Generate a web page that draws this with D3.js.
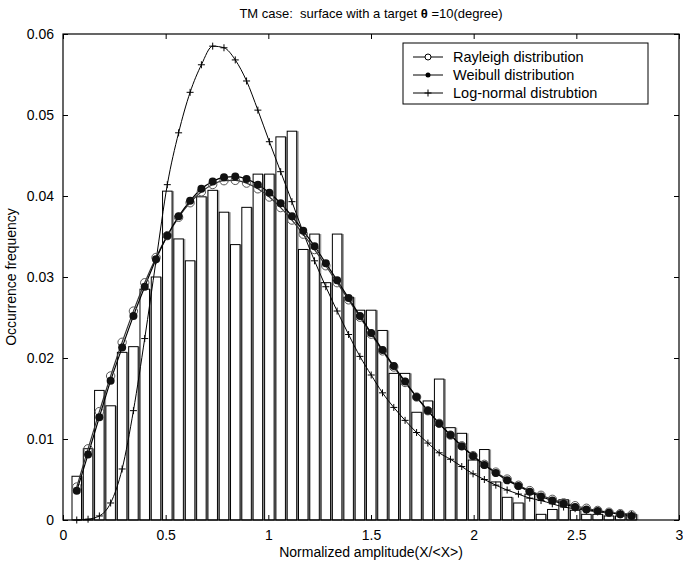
<!DOCTYPE html>
<html>
<head>
<meta charset="utf-8">
<script src="https://cdn.jsdelivr.net/npm/d3@7"></script>
<style>
  body { margin: 0; background: #fff; }
  text { font-family: "Liberation Sans", Arial, Helvetica, sans-serif; fill: #000; }
</style>
</head>
<body>
<svg id="chart"></svg>
<script>
// chart size
var svgWidth = 683;
var svgHeight = 565;

// plot box in pixels
var margin = { top: 34, right: 4, bottom: 45, left: 63 };
var width = svgWidth - margin.left - margin.right;
var height = svgHeight - margin.top - margin.bottom;

// bin centres (normalized amplitude)
var binCenters = [0.067, 0.122, 0.177, 0.232, 0.288, 0.343, 0.398, 0.453, 0.508, 0.563,
  0.619, 0.674, 0.729, 0.784, 0.839, 0.894, 0.949, 1.005, 1.060, 1.115,
  1.170, 1.225, 1.280, 1.335, 1.391, 1.446, 1.501, 1.556, 1.611, 1.666,
  1.722, 1.777, 1.832, 1.887, 1.942, 1.997, 2.052, 2.108, 2.163, 2.218,
  2.273, 2.328, 2.383, 2.438, 2.494, 2.549, 2.604, 2.659, 2.714, 2.769];

// measured histogram (occurrence frequency)
var histValues = [0.0054, 0.0088, 0.0160, 0.0141, 0.0207, 0.0214, 0.0285, 0.0300, 0.0406, 0.0347,
  0.0320, 0.0399, 0.0407, 0.0380, 0.0340, 0.0386, 0.0427, 0.0427, 0.0473, 0.0480,
  0.0334, 0.0353, 0.0293, 0.0353, 0.0275, 0.0259, 0.0259, 0.0234, 0.0181, 0.0181,
  0.0133, 0.0147, 0.0174, 0.0114, 0.0107, 0.0074, 0.0087, 0.0047, 0.0028, 0.0021,
  0.0032, 0.0007, 0.0013, 0.0025, 0.0012, 0.0007, 0.0007, 0.0005, 0.0005, 0.0007];

// fitted curves
var rayleighValues = [0.00407, 0.00879, 0.01338, 0.01778, 0.02194, 0.02579, 0.02929, 0.03241, 0.03511, 0.03737,
  0.03917, 0.04052, 0.04142, 0.04189, 0.04193, 0.04159, 0.04089, 0.03987, 0.03857, 0.03703,
  0.03529, 0.03339, 0.03139, 0.02930, 0.02718, 0.02504, 0.02294, 0.02088, 0.01889, 0.01698,
  0.01518, 0.01349, 0.01193, 0.01048, 0.00916, 0.00795, 0.00687, 0.00591, 0.00505, 0.00429,
  0.00363, 0.00305, 0.00255, 0.00212, 0.00176, 0.00145, 0.00118, 0.00096, 0.00078, 0.00063];

var weibullValues = [0.0036, 0.0081, 0.0127, 0.0172, 0.0213, 0.0252, 0.0288, 0.0322, 0.0351, 0.0375,
  0.0394, 0.0409, 0.0418, 0.0423, 0.0424, 0.0421, 0.0414, 0.0404, 0.0391, 0.0375,
  0.0357, 0.0338, 0.0317, 0.0296, 0.0274, 0.0252, 0.0231, 0.0210, 0.0190, 0.0171,
  0.0152, 0.0135, 0.0119, 0.0105, 0.0091, 0.0079, 0.0068, 0.0058, 0.0049, 0.0042,
  0.0035, 0.0029, 0.0024, 0.0020, 0.0016, 0.0013, 0.0011, 0.0009, 0.0007, 0.0005];

var lognormalValues = [0.0000, 0.0001, 0.0005, 0.0021, 0.0063, 0.0135, 0.0224, 0.0320, 0.0414, 0.0478,
  0.0528, 0.0562, 0.0585, 0.0583, 0.0568, 0.0542, 0.0506, 0.0467, 0.0430, 0.0393,
  0.0355, 0.0320, 0.0288, 0.0258, 0.0229, 0.0202, 0.0179, 0.0157, 0.0139, 0.0123,
  0.0108, 0.0095, 0.0083, 0.0075, 0.0066, 0.0057, 0.0050, 0.0043, 0.0037, 0.0032,
  0.0027, 0.0024, 0.0020, 0.0016, 0.0014, 0.0012, 0.0010, 0.0009, 0.0008, 0.0007];

var xTicks = [0, 0.5, 1, 1.5, 2, 2.5, 3];
var yTicks = [0, 0.01, 0.02, 0.03, 0.04, 0.05, 0.06];
var legendNames = ["Rayleigh distribution", "Weibull distribution", "Log-normal distrubtion"];

var svg = d3.select("#chart")
  .attr("width", svgWidth)
  .attr("height", svgHeight);

var chartGroup = svg.append("g")
  .attr("transform", `translate(${margin.left}, ${margin.top})`);

var xScale = d3.scaleLinear().domain([0, 3]).range([0, width]);
var yScale = d3.scaleLinear().domain([0, 0.06]).range([height, 0]);

// histogram bars
var barW = xScale(0.0463) - xScale(0);
var bars = chartGroup.append("g");
binCenters.forEach(function (c, i) {
  var x0 = xScale(c) - barW / 2;
  var y0 = yScale(histValues[i]);
  // grey shadow strip on the right of each bar
  bars.append("rect")
    .attr("x", x0 + barW)
    .attr("y", y0)
    .attr("width", 2)
    .attr("height", height - y0)
    .attr("fill", "#9a9a9a");
  bars.append("rect")
    .attr("x", x0)
    .attr("y", y0)
    .attr("width", barW)
    .attr("height", height - y0)
    .attr("fill", "#fff")
    .attr("stroke", "#000")
    .attr("stroke-width", 1);
});

// axes (ticks pointing inward, MATLAB style)
chartGroup.append("g")
  .attr("transform", `translate(0, ${height})`)
  .call(d3.axisBottom(xScale).tickValues(xTicks).tickSize(-5).tickPadding(10).tickFormat(d3.format("")))
  .call(g => g.select(".domain").remove())
  .selectAll("text").style("font-size", "14px");

chartGroup.append("g")
  .call(d3.axisTop(xScale).tickValues(xTicks).tickSize(-5).tickFormat(""))
  .call(g => g.select(".domain").remove());

chartGroup.append("g")
  .call(d3.axisLeft(yScale).tickValues(yTicks).tickSize(-5).tickPadding(9).tickFormat(d => d === 0 ? "0" : d3.format(".2f")(d)))
  .call(g => g.select(".domain").remove())
  .selectAll("text").style("font-size", "14px");

chartGroup.append("g")
  .attr("transform", `translate(${width}, 0)`)
  .call(d3.axisRight(yScale).tickValues(yTicks).tickSize(-5).tickFormat(""))
  .call(g => g.select(".domain").remove());

chartGroup.selectAll(".tick line").attr("stroke", "#000");

// plot frame
chartGroup.append("rect")
  .attr("width", width)
  .attr("height", height)
  .attr("fill", "none")
  .attr("stroke", "#000")
  .attr("stroke-width", 1.2);

// curves
var line = function (vals) {
  return d3.line()
    .x((d, i) => xScale(binCenters[i]))
    .y(d => yScale(d))
    .curve(d3.curveMonotoneX)(vals);
};

chartGroup.append("path").attr("d", line(lognormalValues))
  .attr("fill", "none").attr("stroke", "#000").attr("stroke-width", 1);
chartGroup.append("path").attr("d", line(rayleighValues))
  .attr("fill", "none").attr("stroke", "#333").attr("stroke-width", 1.2);
chartGroup.append("path").attr("d", line(weibullValues))
  .attr("fill", "none").attr("stroke", "#000").attr("stroke-width", 1.2);

// markers
function plusMark(g, x, y) {
  g.append("path")
    .attr("d", `M${x - 3.5},${y}H${x + 3.5}M${x},${y - 3.5}V${y + 3.5}`)
    .attr("stroke", "#000").attr("stroke-width", 1);
}
var marks = chartGroup.append("g");
binCenters.forEach(function (c, i) {
  plusMark(marks, xScale(c), yScale(lognormalValues[i]));
});
binCenters.forEach(function (c, i) {
  marks.append("circle")
    .attr("cx", xScale(c)).attr("cy", yScale(rayleighValues[i])).attr("r", 4.2)
    .attr("fill", "none").attr("stroke", "#555").attr("stroke-width", 1);
});
binCenters.forEach(function (c, i) {
  marks.append("circle")
    .attr("cx", xScale(c)).attr("cy", yScale(weibullValues[i])).attr("r", 4)
    .attr("fill", "#111");
});

// legend
var legend = chartGroup.append("g")
  .attr("transform", `translate(${403 - margin.left}, ${43 - margin.top})`);
legend.append("rect")
  .attr("width", 245).attr("height", 61)
  .attr("fill", "#fff").attr("stroke", "#000").attr("stroke-width", 1);
legendNames.forEach(function (name, i) {
  var ly = 14 + i * 18;
  legend.append("line")
    .attr("x1", 10).attr("x2", 40).attr("y1", ly).attr("y2", ly)
    .attr("stroke", "#000").attr("stroke-width", 1);
  if (i === 0) {
    legend.append("circle").attr("cx", 25).attr("cy", ly).attr("r", 3)
      .attr("fill", "#fff").attr("stroke", "#000");
  } else if (i === 1) {
    legend.append("circle").attr("cx", 25).attr("cy", ly).attr("r", 2.5).attr("fill", "#000");
  } else {
    plusMark(legend, 25, ly);
  }
  legend.append("text")
    .attr("x", 50).attr("y", ly + 5)
    .style("font-size", "14.5px")
    .text(name);
});

// title
var title = svg.append("text")
  .attr("x", margin.left + width / 2)
  .attr("y", 18)
  .attr("text-anchor", "middle")
  .style("font-size", "13px");
title.append("tspan").attr("xml:space", "preserve").text("TM case:  surface with a target ");
title.append("tspan").style("font-weight", "bold").text("\u03b8");
title.append("tspan").text(" =10(degree)");

// axis labels
svg.append("text")
  .attr("x", margin.left + width / 2)
  .attr("y", 557)
  .attr("text-anchor", "middle")
  .style("font-size", "14px")
  .text("Normalized amplitude(X/<X>)");

svg.append("text")
  .attr("transform", "rotate(-90)")
  .attr("x", -(margin.top + height / 2))
  .attr("y", 16)
  .attr("text-anchor", "middle")
  .style("font-size", "14px")
  .text("Occurrence frequency");
</script>
</body>
</html>
